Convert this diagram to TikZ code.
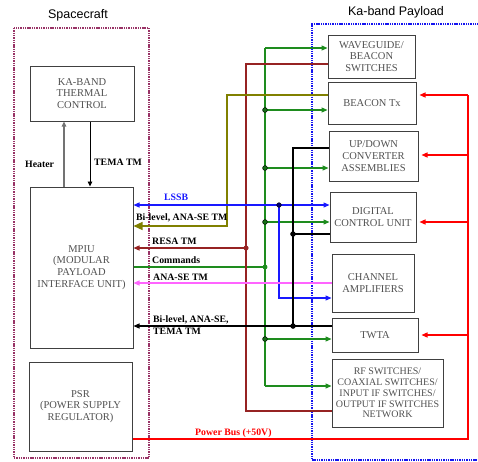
\documentclass[tikz,border=0pt]{standalone}
\usepackage{fontspec}
\setmainfont{Liberation Serif}
\newfontfamily\titlefont{Liberation Sans}
\usepackage{tikz}
\usetikzlibrary{positioning,arrows.meta}
\definecolor{scframe}{RGB}{153,51,102}
\definecolor{plframe}{RGB}{20,20,240}
\definecolor{cmdgreen}{RGB}{30,140,30}
\definecolor{resabrown}{RGB}{150,35,35}
\definecolor{tmolive}{RGB}{128,128,0}
\definecolor{lssbblue}{RGB}{25,25,255}
\definecolor{anasepink}{RGB}{255,100,255}
\definecolor{boxtext}{RGB}{80,80,80}

\begin{document}
\begin{tikzpicture}[x=1pt,y=-1pt,
		unit/.style={draw=black!75,line width=1pt,text=boxtext,align=center,inner sep=0pt,
			font=\fontsize{10.5}{11.8}\selectfont},
		sig/.style={font=\bfseries\fontsize{9.8}{11}\selectfont,anchor=west,inner sep=0pt},
		wire/.style={line width=1.2pt},
		tip/.style={-{Triangle[length=6pt,width=5pt]}},
		junc/.style={draw=black,line width=0.5pt}]
			
			\useasboundingbox (0,0) rectangle (478,461);
			
			% frames
			\draw[scframe,line width=1.6pt,dash pattern=on 1.4pt off 0.9pt] (14,28) rectangle (149,458);
			\draw[plframe,line width=1.4pt,dash pattern=on 1.4pt off 0.9pt] (490,24) -- (312,24) -- (312,460) -- (490,460);
			\node[font=\titlefont\fontsize{12.5}{15}\selectfont] (sctitle) at (78,15) {Spacecraft};
			\node[font=\titlefont\fontsize{12.5}{15}\selectfont] (pltitle) at (396,12) {Ka-band Payload};
			
			% spacecraft units
			\node[unit,minimum width=104pt,minimum height=55pt] (therm) at (82,93.5) {KA-BAND\\THERMAL\\CONTROL};
			\node[unit,minimum width=103pt,minimum height=161pt] (mpiu) at (81.5,267.5) {MPIU\\(MODULAR\\PAYLOAD\\INTERFACE UNIT)};
			\node[unit,minimum width=103pt,minimum height=89pt] (psr) at (80.5,406.5) {PSR\\(POWER SUPPLY\\REGULATOR)};
			
			% payload units
			\node[unit,minimum width=87pt,minimum height=43pt] (wgsw) at (371.5,56.5) {WAVEGUIDE/\\BEACON\\SWITCHES};
			\node[unit,minimum width=88pt,minimum height=42pt] (bcn) at (372,103) {BEACON Tx};
			\node[unit,minimum width=89pt,minimum height=50pt] (udc) at (373.5,156) {UP/DOWN\\CONVERTER\\ASSEMBLIES};
			\node[unit,minimum width=86pt,minimum height=50pt] (dcu) at (373,217) {DIGITAL\\CONTROL UNIT};
			\node[unit,minimum width=82pt,minimum height=58pt] (champ) at (373,283) {CHANNEL\\AMPLIFIERS};
			\node[unit,minimum width=86pt,minimum height=34pt] (twta) at (375,335) {TWTA};
			\node[unit,minimum width=111pt,minimum height=68pt,font=\fontsize{10}{10.8}\selectfont] (rfsw) at (387.5,393) {RF SWITCHES/\\COAXIAL SWITCHES/\\INPUT IF SWITCHES/\\OUTPUT IF SWITCHES\\NETWORK};
			
			% heater and thermal telemetry
			\coordinate (heat) at (64,0);
			\coordinate (tema) at (90,0);
			\draw[line width=1.8pt,black!55,-{Triangle[length=5pt,width=4.5pt]}] (heat |- mpiu.north) -- (heat |- therm.south);
			\draw[line width=0.9pt,-{Triangle[length=5pt,width=4.5pt]}] (tema |- therm.south) -- (tema |- mpiu.north);
			\node[sig] (heatlab) at (25,164) {Heater};
			\node[sig] (temalab) at (94,162) {TEMA TM};
			
			% commands bus
			\coordinate (gtop) at (265,48);
			\coordinate (gbot) at (265,386);
			\coordinate (gcmd) at (265,267);
			\draw[wire,cmdgreen] (mpiu.east |- gcmd) -- (gcmd);
			\draw[wire,cmdgreen] (gbot) -- (gtop);
			\foreach \b/\y in {wgsw/48,bcn/110,udc/168,dcu/222,twta/339,rfsw/386}
			{
				\coordinate (g\b) at (265,\y);
				\draw[wire,cmdgreen,tip] (g\b) -- (\b.west |- g\b);
			}
			\foreach \b in {bcn,udc,dcu,twta}
				\filldraw[junc,fill=cmdgreen!80!black] (g\b) circle (2.4pt);
			\filldraw[cmdgreen] (gcmd) circle (2.2pt);
			\node[sig] (cmdlab) at (152,260) {Commands};
			
			% RESA telemetry
			\coordinate (rtop) at (246,64);
			\coordinate (rjn) at (246,248);
			\coordinate (rbot) at (246,411);
			\draw[wire,resabrown] (wgsw.west |- rtop) -- (rtop) -- (rbot) -- (rfsw.west |- rbot);
			\draw[wire,resabrown,tip] (rjn) -- (mpiu.east |- rjn);
			\filldraw[resabrown] (rjn) circle (2.3pt);
			\node[sig] (resalab) at (152,241) {RESA TM};
			
			% beacon telemetry
			\coordinate (otop) at (227,95);
			\coordinate (obot) at (227,226);
			\draw[wire,tmolive,-{Triangle[length=9pt,width=8pt]}] (bcn.west |- otop) -- (otop) -- (obot) -- (mpiu.east |- obot);
			\node[sig] (bcnlab) at (136,218) {Bi-level, ANA-SE TM};
			
			% LSSB
			\coordinate (bjn) at (279,205);
			\coordinate (bbot) at (279,298);
			\draw[wire,lssbblue,{Triangle[length=6pt,width=5pt]}-{Triangle[length=6pt,width=5pt]}] (mpiu.east |- bjn) -- (dcu.west |- bjn);
			\draw[wire,lssbblue,tip] (bjn) -- (bbot) -- (champ.west |- bbot);
			\filldraw[junc,fill=blue!50!black] (bjn) circle (2.3pt);
			\node[sig,text=lssbblue] (lssblab) at (164,197) {LSSB};
			
			% channel amplifier telemetry
			\draw[wire,anasepink,tip] (champ.west) -- (mpiu.east |- champ.west);
			\node[sig] (anaselab) at (153,277) {ANA-SE TM};
			
			% TWTA / converter / DCU telemetry
			\coordinate (ktop) at (293,148);
			\coordinate (kjn) at (293,234);
			\coordinate (kbot) at (293,326);
			\draw[wire] (udc.west |- ktop) -- (ktop) -- (kbot);
			\draw[wire] (kjn) -- (dcu.west |- kjn);
			\draw[wire,tip] (twta.west |- kbot) -- (mpiu.east |- kbot);
			\filldraw (kjn) circle (2.5pt);
			\filldraw (kbot) circle (2.5pt);
			\node[sig,align=left,font=\bfseries\fontsize{9.8}{12}\selectfont] (twtalab) at (153,325.5) {Bi-level, ANA-SE,\\TEMA TM};
			
			% power bus
			\coordinate (pbot) at (468,439);
			\coordinate (ptop) at (468,95);
			\draw[wire,red] (psr.east |- pbot) -- (pbot) -- (ptop);
			\foreach \b/\y in {bcn/95,udc/155,dcu/222,twta/335}
			{
				\coordinate (p\b) at (468,\y);
				\draw[wire,red,tip,shorten >=3pt] (p\b) -- (\b.east |- p\b);
			}
			\node[sig,text=red] (pwrlab) at (195,433) {Power Bus (+50V)};
			
		\end{tikzpicture}
\end{document}
